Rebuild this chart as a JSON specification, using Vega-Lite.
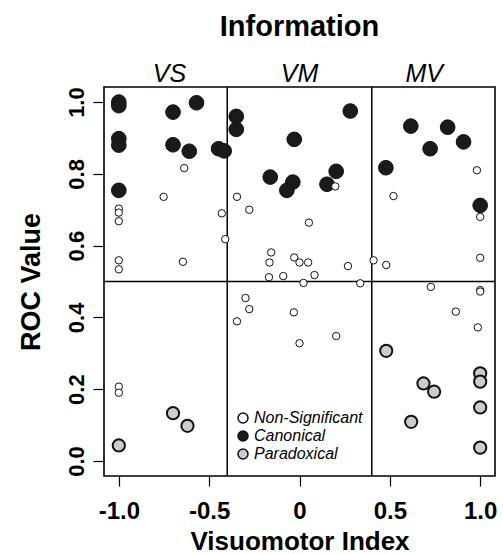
{
  "$schema": "https://vega.github.io/schema/vega-lite/v6.json",
  "width": 391,
  "height": 389,
  "autosize": {"type": "none"},
  "padding": {"left": 104, "top": 87, "right": 8, "bottom": 78},
  "background": "white",
  "title": {"text": "Information", "font": "Liberation Sans", "fontSize": 29, "fontWeight": "bold", "color": "black", "anchor": "middle", "offset": 20},
  "config": {
    "view": {"stroke": "black", "strokeWidth": 1.6},
    "axis": {"grid": false, "domain": false, "tickColor": "black", "tickWidth": 1.2, "tickSize": 10,
      "labelFont": "Liberation Sans", "labelFontWeight": "bold", "labelColor": "black",
      "titleFont": "Liberation Sans", "titleFontWeight": "bold", "titleColor": "black", "titleFontSize": 27}
  },
  "datasets": {
    "pts": [
      {"v": -1.0, "roc": 1.0, "type": "Canonical"},
      {"v": -1.0, "roc": 0.99, "type": "Canonical"},
      {"v": -0.57, "roc": 0.998, "type": "Canonical"},
      {"v": -0.70, "roc": 0.972, "type": "Canonical"},
      {"v": -1.0, "roc": 0.898, "type": "Canonical"},
      {"v": -1.0, "roc": 0.88, "type": "Canonical"},
      {"v": -0.70, "roc": 0.881, "type": "Canonical"},
      {"v": -0.61, "roc": 0.863, "type": "Canonical"},
      {"v": -0.448, "roc": 0.870, "type": "Canonical"},
      {"v": -0.417, "roc": 0.864, "type": "Canonical"},
      {"v": -1.0, "roc": 0.754, "type": "Canonical"},
      {"v": -0.35, "roc": 0.96, "type": "Canonical"},
      {"v": -0.35, "roc": 0.924, "type": "Canonical"},
      {"v": 0.281, "roc": 0.975, "type": "Canonical"},
      {"v": -0.029, "roc": 0.896, "type": "Canonical"},
      {"v": -0.162, "roc": 0.791, "type": "Canonical"},
      {"v": -0.037, "roc": 0.777, "type": "Canonical"},
      {"v": -0.07, "roc": 0.754, "type": "Canonical"},
      {"v": 0.203, "roc": 0.807, "type": "Canonical"},
      {"v": 0.152, "roc": 0.771, "type": "Canonical"},
      {"v": 0.478, "roc": 0.817, "type": "Canonical"},
      {"v": 0.616, "roc": 0.933, "type": "Canonical"},
      {"v": 0.82, "roc": 0.93, "type": "Canonical"},
      {"v": 0.723, "roc": 0.870, "type": "Canonical"},
      {"v": 0.908, "roc": 0.889, "type": "Canonical"},
      {"v": 1.0, "roc": 0.712, "type": "Canonical"},
      {"v": -0.638, "roc": 0.816, "type": "Non-Significant"},
      {"v": -0.752, "roc": 0.736, "type": "Non-Significant"},
      {"v": -1.0, "roc": 0.703, "type": "Non-Significant"},
      {"v": -1.0, "roc": 0.692, "type": "Non-Significant"},
      {"v": -1.0, "roc": 0.668, "type": "Non-Significant"},
      {"v": -0.43, "roc": 0.69, "type": "Non-Significant"},
      {"v": -0.411, "roc": 0.618, "type": "Non-Significant"},
      {"v": -1.0, "roc": 0.559, "type": "Non-Significant"},
      {"v": -1.0, "roc": 0.534, "type": "Non-Significant"},
      {"v": -0.645, "roc": 0.555, "type": "Non-Significant"},
      {"v": -0.346, "roc": 0.736, "type": "Non-Significant"},
      {"v": 0.198, "roc": 0.765, "type": "Non-Significant"},
      {"v": -0.278, "roc": 0.70, "type": "Non-Significant"},
      {"v": 0.052, "roc": 0.664, "type": "Non-Significant"},
      {"v": -0.157, "roc": 0.581, "type": "Non-Significant"},
      {"v": -0.166, "roc": 0.553, "type": "Non-Significant"},
      {"v": -0.029, "roc": 0.567, "type": "Non-Significant"},
      {"v": 0.0, "roc": 0.553, "type": "Non-Significant"},
      {"v": 0.048, "roc": 0.553, "type": "Non-Significant"},
      {"v": 0.268, "roc": 0.543, "type": "Non-Significant"},
      {"v": 0.41, "roc": 0.559, "type": "Non-Significant"},
      {"v": -0.169, "roc": 0.512, "type": "Non-Significant"},
      {"v": -0.09, "roc": 0.515, "type": "Non-Significant"},
      {"v": 0.083, "roc": 0.518, "type": "Non-Significant"},
      {"v": 0.022, "roc": 0.496, "type": "Non-Significant"},
      {"v": 0.336, "roc": 0.495, "type": "Non-Significant"},
      {"v": -0.299, "roc": 0.454, "type": "Non-Significant"},
      {"v": -0.278, "roc": 0.423, "type": "Non-Significant"},
      {"v": -0.346, "roc": 0.389, "type": "Non-Significant"},
      {"v": -0.031, "roc": 0.414, "type": "Non-Significant"},
      {"v": 0.0, "roc": 0.328, "type": "Non-Significant"},
      {"v": 0.203, "roc": 0.348, "type": "Non-Significant"},
      {"v": -1.0, "roc": 0.207, "type": "Non-Significant"},
      {"v": -1.0, "roc": 0.19, "type": "Non-Significant"},
      {"v": 0.982, "roc": 0.81, "type": "Non-Significant"},
      {"v": 0.52, "roc": 0.738, "type": "Non-Significant"},
      {"v": 1.0, "roc": 0.68, "type": "Non-Significant"},
      {"v": 1.0, "roc": 0.566, "type": "Non-Significant"},
      {"v": 0.48, "roc": 0.546, "type": "Non-Significant"},
      {"v": 0.727, "roc": 0.485, "type": "Non-Significant"},
      {"v": 1.0, "roc": 0.476, "type": "Non-Significant"},
      {"v": 1.0, "roc": 0.472, "type": "Non-Significant"},
      {"v": 0.865, "roc": 0.416, "type": "Non-Significant"},
      {"v": 0.987, "roc": 0.372, "type": "Non-Significant"},
      {"v": -1.0, "roc": 0.043, "type": "Paradoxical"},
      {"v": -0.70, "roc": 0.133, "type": "Paradoxical"},
      {"v": -0.62, "roc": 0.098, "type": "Paradoxical"},
      {"v": 0.48, "roc": 0.307, "type": "Paradoxical"},
      {"v": 0.686, "roc": 0.216, "type": "Paradoxical"},
      {"v": 0.745, "roc": 0.193, "type": "Paradoxical"},
      {"v": 1.0, "roc": 0.244, "type": "Paradoxical"},
      {"v": 1.0, "roc": 0.221, "type": "Paradoxical"},
      {"v": 1.0, "roc": 0.149, "type": "Paradoxical"},
      {"v": 0.618, "roc": 0.109, "type": "Paradoxical"},
      {"v": 1.0, "roc": 0.037, "type": "Paradoxical"}
    ],
    "vlines": [{"v": -0.4}, {"v": 0.4}],
    "hlines": [{"roc": 0.5}],
    "regions": [{"v": -0.72, "label": "VS"}, {"v": 0.0, "label": "VM"}, {"v": 0.69, "label": "MV"}]
  },
  "layer": [
    {
      "data": {"name": "vlines"},
      "mark": {"type": "rule", "color": "black", "strokeWidth": 1.5},
      "encoding": {
        "x": {"field": "v", "type": "quantitative", "scale": {"domain": [-1.082, 1.082], "nice": false, "zero": false},
          "axis": {"title": "Visuomotor Index", "values": [-1, -0.5, 0, 0.5, 1], "labelFontSize": 24, "labelPadding": 13, "titlePadding": 5, "titleFontSize": 26,
            "labelExpr": "datum.value == 0 ? '0' : (datum.value < 0 ? '-' : '') + format(abs(datum.value), '.1f')"}}
      }
    },
    {
      "data": {"name": "hlines"},
      "mark": {"type": "rule", "color": "black", "strokeWidth": 1.5},
      "encoding": {
        "y": {"field": "roc", "type": "quantitative", "scale": {"domain": [-0.042, 1.042], "nice": false, "zero": false},
          "axis": {"title": "ROC Value", "values": [0, 0.2, 0.4, 0.6, 0.8, 1.0], "format": ".1f", "labelFontSize": 22, "tickSize": 11,
            "labelAngle": -90, "labelAlign": "center", "labelBaseline": "alphabetic", "labelPadding": 10, "titlePadding": 20}}
      }
    },
    {
      "data": {"name": "pts"},
      "transform": [{"filter": "datum.type === 'Canonical'"}],
      "mark": {"type": "point", "filled": true, "shape": "circle", "stroke": "#111111", "strokeWidth": 1, "size": 215, "opacity": 1},
      "encoding": {
        "x": {"field": "v", "type": "quantitative"},
        "y": {"field": "roc", "type": "quantitative"},
        "fill": {"field": "type", "type": "nominal",
          "scale": {"domain": ["Non-Significant", "Canonical", "Paradoxical"], "range": ["white", "#1a1a1a", "#cccccc"]},
          "legend": {"title": null, "orient": "none", "legendX": 131, "legendY": 323, "labelFont": "Liberation Sans", "labelFontStyle": "italic",
            "labelFontSize": 16, "labelColor": "black", "rowPadding": 2, "labelOffset": 3, "padding": 0,
            "encode": {"symbols": {"update": {
              "size": {"signal": "datum.value === 'Non-Significant' ? 50 : 85"},
              "stroke": {"value": "#111111"},
              "strokeWidth": {"signal": "datum.value === 'Paradoxical' ? 1.6 : 1"}}}}}}
      }
    },
    {
      "data": {"name": "pts"},
      "transform": [{"filter": "datum.type === 'Non-Significant'"}],
      "mark": {"type": "point", "filled": true, "shape": "circle", "stroke": "#111111", "strokeWidth": 1, "size": 55, "opacity": 1},
      "encoding": {
        "x": {"field": "v", "type": "quantitative"},
        "y": {"field": "roc", "type": "quantitative"},
        "fill": {"field": "type", "type": "nominal"}
      }
    },
    {
      "data": {"name": "pts"},
      "transform": [{"filter": "datum.type === 'Paradoxical'"}],
      "mark": {"type": "point", "filled": true, "shape": "circle", "stroke": "#111111", "strokeWidth": 2, "size": 150, "opacity": 1},
      "encoding": {
        "x": {"field": "v", "type": "quantitative"},
        "y": {"field": "roc", "type": "quantitative"},
        "fill": {"field": "type", "type": "nominal"}
      }
    },
    {
      "data": {"name": "regions"},
      "mark": {"type": "text", "font": "Liberation Sans", "fontStyle": "italic", "fontSize": 25, "color": "black", "baseline": "alphabetic", "dy": -5},
      "encoding": {
        "x": {"field": "v", "type": "quantitative"},
        "y": {"datum": 1.042, "type": "quantitative"},
        "text": {"field": "label"}
      }
    }
  ]
}
